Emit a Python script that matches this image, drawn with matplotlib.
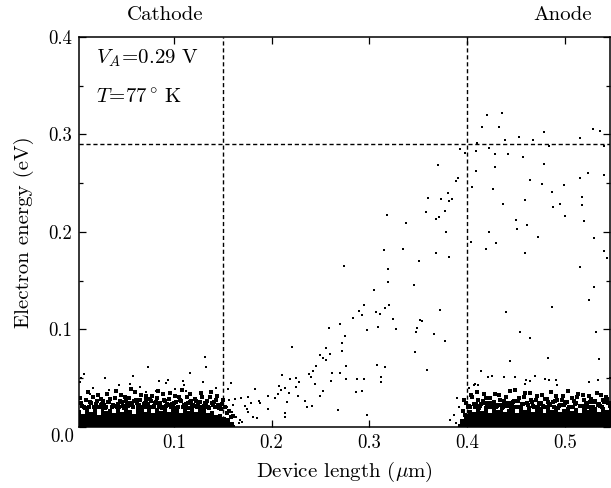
import matplotlib
matplotlib.use("Agg")
import matplotlib.pyplot as plt
from matplotlib.ticker import MultipleLocator

plt.rcParams['font.family'] = 'cmr10'
plt.rcParams['mathtext.fontset'] = 'cm'
plt.rcParams['axes.formatter.use_mathtext'] = True

# solid electron band (top edge of the black mass), cathode and anode
cathodeBandX = [0.003, 0.007, 0.011, 0.015, 0.019, 0.023, 0.027, 0.031, 0.035, 0.039,
                0.043, 0.047, 0.051, 0.055, 0.059, 0.063, 0.067, 0.071, 0.075, 0.079,
                0.083, 0.087, 0.091, 0.095, 0.099, 0.103, 0.107, 0.111, 0.115, 0.119,
                0.123, 0.127, 0.131, 0.135, 0.139, 0.143, 0.147, 0.151, 0.155, 0.159, 0.163]
cathodeBandTop = [0.017, 0.013, 0.020, 0.015, 0.019, 0.012, 0.022, 0.016, 0.018, 0.014,
                  0.023, 0.015, 0.019, 0.017, 0.013, 0.021, 0.018, 0.015, 0.022, 0.014,
                  0.019, 0.016, 0.023, 0.015, 0.018, 0.021, 0.014, 0.020, 0.016, 0.022,
                  0.015, 0.018, 0.019, 0.014, 0.016, 0.012, 0.013, 0.010, 0.009, 0.005, 0.002]
anodeBandX = [0.391, 0.395, 0.399, 0.403, 0.407, 0.411, 0.415, 0.419, 0.423, 0.427,
              0.431, 0.435, 0.439, 0.443, 0.447, 0.451, 0.455, 0.459, 0.463, 0.467,
              0.471, 0.475, 0.479, 0.483, 0.487, 0.491, 0.495, 0.499, 0.503, 0.507,
              0.511, 0.515, 0.519, 0.523, 0.527, 0.531, 0.535, 0.539, 0.543, 0.547]
anodeBandTop = [0.003, 0.008, 0.013, 0.017, 0.015, 0.020, 0.016, 0.022, 0.014, 0.019,
                0.017, 0.023, 0.015, 0.018, 0.021, 0.014, 0.019, 0.017, 0.022, 0.015,
                0.018, 0.021, 0.014, 0.020, 0.017, 0.022, 0.015, 0.018, 0.021, 0.016,
                0.019, 0.014, 0.022, 0.017, 0.018, 0.021, 0.015, 0.020, 0.017, 0.021]

# speckled electrons just above the cathode band
cathodeSpeckX = [0.006, 0.010, 0.013, 0.017, 0.020, 0.023, 0.026, 0.029, 0.032, 0.034,
                 0.037, 0.040, 0.043, 0.046, 0.048, 0.051, 0.054, 0.057, 0.060, 0.062,
                 0.065, 0.068, 0.071, 0.074, 0.077, 0.080, 0.083, 0.086, 0.089, 0.092,
                 0.095, 0.098, 0.101, 0.104, 0.107, 0.110, 0.113, 0.116, 0.119, 0.122,
                 0.125, 0.128, 0.131, 0.134, 0.137, 0.140, 0.143, 0.146, 0.149, 0.152,
                 0.156, 0.160,
                 0.004, 0.008, 0.012, 0.015, 0.019, 0.022, 0.025, 0.028, 0.031, 0.035,
                 0.038, 0.041, 0.044, 0.047, 0.050, 0.053, 0.056, 0.059, 0.063, 0.066,
                 0.069, 0.072, 0.075, 0.078, 0.081, 0.084, 0.087, 0.090, 0.093, 0.096,
                 0.099, 0.102, 0.105, 0.108, 0.111, 0.114, 0.117, 0.120, 0.123, 0.126,
                 0.129, 0.132, 0.135, 0.138, 0.141, 0.144, 0.147, 0.150,
                 0.005, 0.009, 0.014, 0.018, 0.021, 0.027, 0.030, 0.033, 0.039, 0.042,
                 0.045, 0.049, 0.052, 0.055, 0.058, 0.061, 0.064, 0.067, 0.070, 0.073,
                 0.076, 0.079, 0.082, 0.085, 0.088, 0.091, 0.094, 0.097, 0.100, 0.103,
                 0.106, 0.109, 0.112, 0.115, 0.118, 0.121, 0.124, 0.127, 0.130, 0.133,
                 0.136, 0.139, 0.142, 0.145, 0.148, 0.154, 0.158]
cathodeSpeckY = [0.022, 0.028, 0.021, 0.031, 0.024, 0.020, 0.029, 0.023, 0.034, 0.026,
                 0.021, 0.030, 0.024, 0.033, 0.022, 0.027, 0.030, 0.023, 0.036, 0.025,
                 0.028, 0.021, 0.032, 0.024, 0.027, 0.022, 0.030, 0.025, 0.034, 0.022,
                 0.029, 0.024, 0.032, 0.021, 0.027, 0.023, 0.031, 0.026, 0.022, 0.029,
                 0.024, 0.035, 0.022, 0.027, 0.031, 0.023, 0.028, 0.019, 0.024, 0.020,
                 0.016, 0.011,
                 0.030, 0.020, 0.036, 0.025, 0.021, 0.033, 0.023, 0.027, 0.020, 0.029,
                 0.023, 0.037, 0.021, 0.026, 0.031, 0.022, 0.039, 0.027, 0.021, 0.033,
                 0.024, 0.028, 0.020, 0.032, 0.025, 0.037, 0.021, 0.028, 0.024, 0.035,
                 0.021, 0.026, 0.031, 0.038, 0.020, 0.025, 0.034, 0.023, 0.027, 0.021,
                 0.031, 0.025, 0.021, 0.036, 0.026, 0.032, 0.022, 0.028,
                 0.025, 0.019, 0.026, 0.020, 0.027, 0.024, 0.019, 0.026, 0.022, 0.020,
                 0.027, 0.019, 0.023, 0.025, 0.020, 0.028, 0.023, 0.019, 0.025, 0.021,
                 0.029, 0.020, 0.026, 0.022, 0.019, 0.027, 0.023, 0.020, 0.025, 0.019,
                 0.028, 0.021, 0.024, 0.019, 0.027, 0.022, 0.020, 0.026, 0.021, 0.024,
                 0.019, 0.025, 0.021, 0.023, 0.018, 0.014, 0.010]

# speckled electrons just above the anode band
anodeSpeckX = [0.396, 0.399, 0.402, 0.405, 0.408, 0.411, 0.414, 0.417, 0.420, 0.423,
               0.426, 0.429, 0.432, 0.435, 0.438, 0.441, 0.444, 0.447, 0.450, 0.453,
               0.456, 0.459, 0.462, 0.465, 0.468, 0.471, 0.474, 0.477, 0.480, 0.483,
               0.486, 0.489, 0.492, 0.495, 0.498, 0.501, 0.504, 0.507, 0.510, 0.513,
               0.516, 0.519, 0.522, 0.525, 0.528, 0.531, 0.534, 0.537, 0.540, 0.543, 0.546,
               0.397, 0.401, 0.404, 0.407, 0.410, 0.413, 0.416, 0.419, 0.422, 0.425,
               0.428, 0.431, 0.434, 0.437, 0.440, 0.443, 0.446, 0.449, 0.452, 0.455,
               0.458, 0.461, 0.464, 0.467, 0.470, 0.473, 0.476, 0.479, 0.482, 0.485,
               0.488, 0.491, 0.494, 0.497, 0.500, 0.503, 0.506, 0.509, 0.512, 0.515,
               0.518, 0.521, 0.524, 0.527, 0.530, 0.533, 0.536, 0.539, 0.542, 0.545,
               0.398, 0.403, 0.409, 0.412, 0.418, 0.421, 0.427, 0.430, 0.436, 0.439,
               0.445, 0.448, 0.454, 0.457, 0.463, 0.466, 0.472, 0.475, 0.481, 0.484,
               0.490, 0.493, 0.499, 0.502, 0.508, 0.511, 0.517, 0.520, 0.526, 0.529,
               0.535, 0.538, 0.544]
anodeSpeckY = [0.016, 0.025, 0.022, 0.031, 0.021, 0.028, 0.024, 0.034, 0.022, 0.030,
               0.025, 0.021, 0.033, 0.023, 0.027, 0.022, 0.037, 0.026, 0.021, 0.030,
               0.024, 0.035, 0.023, 0.028, 0.021, 0.032, 0.025, 0.022, 0.029, 0.026,
               0.036, 0.021, 0.028, 0.023, 0.032, 0.026, 0.021, 0.030, 0.024, 0.034,
               0.022, 0.028, 0.025, 0.032, 0.021, 0.027, 0.023, 0.033, 0.026, 0.029, 0.022,
               0.028, 0.021, 0.033, 0.024, 0.036, 0.022, 0.027, 0.030, 0.025, 0.021,
               0.034, 0.023, 0.028, 0.020, 0.031, 0.025, 0.022, 0.038, 0.027, 0.021,
               0.031, 0.025, 0.035, 0.022, 0.028, 0.024, 0.033, 0.020, 0.029, 0.023,
               0.026, 0.032, 0.022, 0.028, 0.025, 0.037, 0.021, 0.027, 0.031, 0.022,
               0.033, 0.024, 0.020, 0.029, 0.026, 0.035, 0.022, 0.028, 0.031, 0.025,
               0.012, 0.020, 0.024, 0.019, 0.025, 0.020, 0.026, 0.022, 0.019, 0.025,
               0.021, 0.027, 0.020, 0.024, 0.019, 0.026, 0.021, 0.025, 0.020, 0.024,
               0.027, 0.019, 0.023, 0.026, 0.020, 0.025, 0.022, 0.019, 0.026, 0.021,
               0.024, 0.020, 0.025]

# sparse electrons above the cathode band
cathodeSparseX = [0.0084, 0.0053, 0.004, 0.030, 0.0587, 0.0731, 0.0847, 0.0923, 0.0943,
                  0.1094, 0.110, 0.1165, 0.130, 0.1323, 0.1332, 0.0436, 0.0552,
                  0.017, 0.034, 0.065, 0.072, 0.101, 0.112, 0.143, 0.014, 0.082]
cathodeSparseY = [0.0544, 0.050, 0.0465, 0.0506, 0.0523, 0.0618, 0.0475, 0.0454, 0.0482,
                  0.0475, 0.043, 0.0554, 0.0465, 0.0715, 0.0612, 0.043, 0.044,
                  0.040, 0.038, 0.041, 0.036, 0.039, 0.037, 0.040, 0.034, 0.037]

# hot electrons crossing the drift region
driftX = [0.393, 0.3975, 0.370, 0.391, 0.389, 0.380, 0.360, 0.373, 0.384, 0.381,
          0.3775, 0.358, 0.371, 0.368, 0.318, 0.337, 0.378, 0.315, 0.3345, 0.368,
          0.381, 0.351, 0.2735, 0.319, 0.319, 0.346, 0.305,
          0.294, 0.320, 0.2897, 0.292, 0.307, 0.3105, 0.316, 0.372, 0.283, 0.3236,
          0.352, 0.3535, 0.2695, 0.259, 0.297, 0.3085, 0.3274, 0.3486, 0.348, 0.366,
          0.275, 0.377, 0.2716, 0.256, 0.272, 0.2596, 0.347, 0.249, 0.252, 0.2555,
          0.3078, 0.3154, 0.2449, 0.3585, 0.2418, 0.262, 0.270, 0.2757, 0.240, 0.276,
          0.287, 0.2945, 0.312, 0.3118, 0.261, 0.244, 0.252, 0.2863, 0.2924, 0.2497,
          0.2408, 0.2675, 0.298,
          0.2213, 0.2384, 0.211, 0.2185, 0.225, 0.2284, 0.2247, 0.208, 0.214, 0.2175,
          0.2068, 0.2093, 0.1966, 0.2035, 0.216, 0.2274, 0.2346, 0.236, 0.2137, 0.2137,
          0.196, 0.1826, 0.1873, 0.188, 0.176, 0.1785, 0.1744, 0.176, 0.181, 0.1847,
          0.169, 0.1725, 0.1675, 0.170, 0.163, 0.158, 0.155, 0.156, 0.1545, 0.1606,
          0.159, 0.1634, 0.1668,
          0.3825, 0.388, 0.390, 0.386, 0.392]
driftY = [0.285, 0.281, 0.269, 0.255, 0.252, 0.240, 0.235, 0.234, 0.2335, 0.2315,
          0.2215, 0.220, 0.215, 0.2135, 0.217, 0.209, 0.200, 0.182, 0.183, 0.178,
          0.174, 0.170, 0.165, 0.162, 0.149, 0.146, 0.1405,
          0.125, 0.125, 0.1187, 0.1145, 0.118, 0.116, 0.1217, 0.120, 0.1115, 0.1108,
          0.1097, 0.109, 0.1056, 0.102, 0.0998, 0.1026, 0.1008, 0.1012, 0.097, 0.0954,
          0.093, 0.088, 0.0858, 0.0813, 0.0776, 0.0752, 0.077, 0.0735, 0.071, 0.0687,
          0.0632, 0.0612, 0.0622, 0.0588, 0.0571, 0.055, 0.055, 0.0626, 0.051, 0.0492,
          0.0489, 0.0489, 0.051, 0.0465, 0.0472, 0.0438, 0.0372, 0.0362, 0.0366, 0.0318,
          0.0215, 0.0174, 0.0126,
          0.082, 0.054, 0.0533, 0.049, 0.0506, 0.0458, 0.0413, 0.042, 0.0397, 0.0345,
          0.0335, 0.0376, 0.0315, 0.0297, 0.026, 0.0315, 0.027, 0.0202, 0.0147, 0.010,
          0.0185, 0.039, 0.027, 0.025, 0.0305, 0.0243, 0.018, 0.015, 0.0106, 0.0095,
          0.0294, 0.0218, 0.0072, 0.0054, 0.029, 0.0454, 0.039, 0.028, 0.021, 0.0226,
          0.0157, 0.0106, 0.0038,
          0.0072, 0.004, 0.030, 0.012, 0.020]

# electrons in the anode region well above the band
anodeSparseX = [0.4204, 0.4355, 0.415, 0.4327, 0.4526, 0.4783, 0.4389, 0.4674, 0.5289,
                0.5358, 0.5153, 0.4098, 0.4834, 0.540, 0.409, 0.4225, 0.4283, 0.442,
                0.4574, 0.4783, 0.428, 0.409, 0.523, 0.5149, 0.540, 0.4646, 0.4766,
                0.499, 0.4044, 0.4266, 0.4869, 0.517, 0.4594, 0.437, 0.495, 0.517,
                0.4877, 0.4995, 0.4499, 0.519, 0.4612, 0.451, 0.4225, 0.472, 0.5296,
                0.4294, 0.4037, 0.419, 0.4592, 0.540, 0.5424, 0.5149,
                0.530, 0.525, 0.4869, 0.4396, 0.532, 0.454, 0.4646, 0.483, 0.5344,
                0.4437, 0.414, 0.4214, 0.4249, 0.4376, 0.4486, 0.4692, 0.4794, 0.4907,
                0.460, 0.4646, 0.4594, 0.4838, 0.4917, 0.5337, 0.524, 0.546, 0.407,
                0.402, 0.4078, 0.4105]
anodeSparseY = [0.3203, 0.322, 0.3077, 0.3074, 0.2974, 0.3022, 0.2947, 0.294, 0.3056,
                0.3032, 0.296, 0.2916, 0.2885, 0.2885, 0.2827, 0.2858, 0.280, 0.2797,
                0.2769, 0.270, 0.267, 0.2626, 0.2605, 0.255, 0.258, 0.2537, 0.2496,
                0.248, 0.2458, 0.2441, 0.2407, 0.2356, 0.2332, 0.229, 0.229, 0.2277,
                0.2256, 0.216, 0.212, 0.2113, 0.2069, 0.2034, 0.200, 0.1949, 0.1942,
                0.1887, 0.190, 0.1826, 0.1785, 0.1805, 0.1736, 0.164,
                0.1433, 0.130, 0.1234, 0.118, 0.0974, 0.0974, 0.0916, 0.0708, 0.070,
                0.0674, 0.0577, 0.0516, 0.0523, 0.0516, 0.051, 0.0523, 0.0495, 0.0482,
                0.0482, 0.0469, 0.0441, 0.0482, 0.0434, 0.0482, 0.0465, 0.050, 0.043,
                0.0397, 0.0441, 0.043]

appliedBias = 0.29
cathodeEdge = 0.15
anodeEdge = 0.40

fig = plt.figure(figsize=(6.11, 4.88), dpi=100)
ax = fig.add_axes([0.1293, 0.125, 0.8691, 0.7992])

ax.fill_between(cathodeBandX, 0, cathodeBandTop, step='mid', color='k', lw=0)
ax.fill_between(anodeBandX, 0, anodeBandTop, step='mid', color='k', lw=0)

speck = dict(ls='none', marker='s', ms=2.4, mew=0, color='k')
dot = dict(ls='none', marker='s', ms=2.1, mew=0, color='k')
ax.plot(cathodeSpeckX, cathodeSpeckY, **speck)
ax.plot(anodeSpeckX, anodeSpeckY, **speck)
ax.plot(cathodeSparseX, cathodeSparseY, **dot)
ax.plot(driftX, driftY, **dot)
ax.plot(anodeSparseX, anodeSparseY, **dot)

ax.axhline(appliedBias, color='k', lw=1.0, dashes=(3, 2))
ax.axvline(cathodeEdge, color='k', lw=1.0, dashes=(3, 2))
ax.axvline(anodeEdge, color='k', lw=1.0, dashes=(3, 2))

ax.set_xlim(0.003, 0.546)
ax.set_ylim(0, 0.4)
ax.set_xticks([0.1, 0.2, 0.3, 0.4, 0.5])
ax.set_xticklabels(['0.1', '0.2', '0.3', '0.4', '0.5'])
ax.set_yticks([0.0, 0.1, 0.2, 0.3, 0.4])
ax.set_yticklabels(['', '0.1', '0.2', '0.3', '0.4'])
ax.yaxis.set_minor_locator(MultipleLocator(0.05))
ax.tick_params(which='both', direction='in', top=True, right=True, labelsize=13.5)
ax.tick_params(which='major', length=5, width=0.9)
ax.tick_params(which='minor', length=3, width=0.9)
ax.tick_params(axis='x', pad=5)
ax.tick_params(axis='y', pad=5)
for s in ax.spines.values():
    s.set_linewidth(1.1)

fig.text(62 / 611, 1 - 437 / 488, '0.0', fontsize=13.5, ha='center', va='center')

ax.set_xlabel(r'Device length ($\mu$m)', fontsize=15, labelpad=6)
ax.set_ylabel('Electron energy (eV)', fontsize=15, labelpad=10)

fig.text(0.27, 0.969, 'Cathode', fontsize=15, ha='center', va='center')
fig.text(0.921, 0.969, 'Anode', fontsize=15, ha='center', va='center')

ax.text(0.020, 0.378, r'$V_A\!=\!$0.29 V', fontsize=15, va='center')
ax.text(0.020, 0.338, r'$T\!=\!$77$^\circ\,$K', fontsize=15, va='center')

fig.savefig('out.png', dpi=100)
